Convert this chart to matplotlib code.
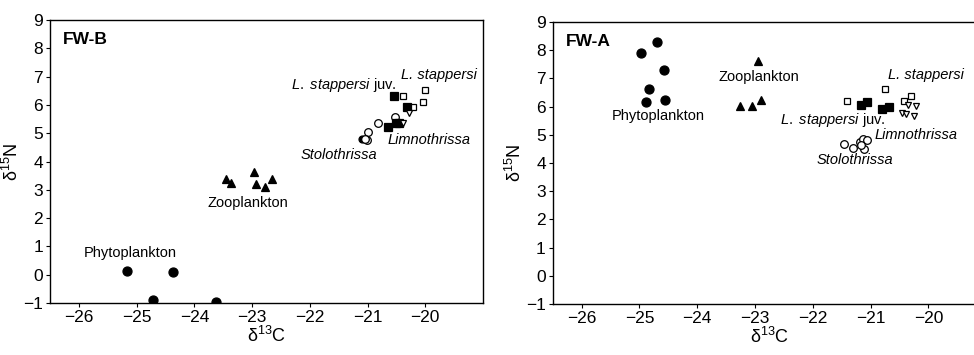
import numpy as np
import matplotlib.pyplot as plt

plt.rcParams['font.family'] = ['Liberation Sans', 'DejaVu Sans']
plt.rcParams['mathtext.fontset'] = 'custom'
plt.rcParams['mathtext.rm'] = 'Liberation Sans'
plt.rcParams['mathtext.it'] = 'Liberation Sans:italic'

# ---- FW-B data ----
b_phyto_x = [-25.17, -24.37, -24.72, -23.63]
b_phyto_y = [0.14, 0.08, -0.89, -0.95]
b_zoo_x = [-23.45, -23.36, -22.96, -22.93, -22.77, -22.65]
b_zoo_y = [3.37, 3.25, 3.64, 3.20, 3.10, 3.39]
b_juv_x = [-20.54, -20.32, -20.65, -20.46, -20.50]
b_juv_y = [6.33, 5.94, 5.23, 5.35, 5.37]
b_stap_x = [-20.38, -20.00, -20.04, -20.21]
b_stap_y = [6.33, 6.53, 6.09, 5.92]
b_limno_x = [-20.29, -20.39]
b_limno_y = [5.70, 5.37]
b_stolo_x = [-20.52, -20.81, -21.00, -21.01, -21.05]
b_stolo_y = [5.58, 5.35, 5.03, 4.76, 4.80]
b_stolo_f_x = [-21.10]
b_stolo_f_y = [4.79]

# ---- FW-A data ----
a_phyto_x = [-24.69, -24.97, -24.57, -24.83, -24.88, -24.56]
a_phyto_y = [8.30, 7.89, 7.30, 6.62, 6.17, 6.23]
a_zoo_x = [-22.94, -23.26, -23.06, -22.90]
a_zoo_y = [7.63, 6.02, 6.02, 6.23]
a_juv_x = [-21.17, -21.07, -20.81, -20.68]
a_juv_y = [6.06, 6.15, 5.91, 6.00]
a_stap_x = [-21.40, -20.75, -20.30, -20.42]
a_stap_y = [6.21, 6.61, 6.39, 6.20]
a_limno_x = [-20.35, -20.22, -20.45, -20.39, -20.25]
a_limno_y = [6.06, 6.02, 5.76, 5.73, 5.68]
a_stolo_x = [-21.46, -21.31, -21.18, -21.13, -21.07, -21.11, -21.16]
a_stolo_y = [4.66, 4.54, 4.73, 4.84, 4.82, 4.49, 4.64]

xticks = [-26, -25, -24, -23, -22, -21, -20]
yticks = list(range(-1, 10))

fig = plt.figure(figsize=(9.74, 3.55), dpi=100)
ax1 = fig.add_axes([0.0513, 0.1465, 0.4446, 0.797])
ax2 = fig.add_axes([0.5675, 0.1437, 0.445, 0.7943])


def style(ax, tag):
    ax.set_xlim(-26.5, -19)
    ax.set_ylim(-1, 9)
    ax.set_xticks(xticks)
    ax.set_yticks(yticks)
    ax.set_xticklabels(['\u2212%d' % abs(t) for t in xticks])
    ax.set_yticklabels([('\u2212%d' % abs(t)) if t < 0 else str(t) for t in yticks])
    ax.tick_params(direction='out', length=3, width=0.8, labelsize=12.5, pad=2)
    for s in ax.spines.values():
        s.set_linewidth(1.0)
    ax.set_xlabel(r'$\mathrm{\delta}^{13}$C', fontsize=13, labelpad=1)
    ax.set_ylabel(r'$\mathrm{\delta}^{15}$N', fontsize=13, labelpad=1)
    ax.text(0.03, 0.93, tag, transform=ax.transAxes, fontsize=12.5,
            fontweight='bold', va='center', ha='left')


def points(ax, x, y, marker, filled, ms):
    ax.plot(x, y, linestyle='none', marker=marker, ms=ms,
            mfc='black' if filled else 'white', mec='black', mew=0.9)


style(ax1, 'FW-B')
points(ax1, b_phyto_x, b_phyto_y, 'o', True, 6.5)
points(ax1, b_zoo_x, b_zoo_y, '^', True, 6)
points(ax1, b_stolo_f_x, b_stolo_f_y, 'o', True, 5)
points(ax1, b_stolo_x, b_stolo_y, 'o', False, 5.5)
points(ax1, b_stap_x, b_stap_y, 's', False, 5)
points(ax1, b_juv_x, b_juv_y, 's', True, 5.2)
points(ax1, b_limno_x, b_limno_y, 'v', False, 5)

ax1.text(-25.11, 0.76, 'Phytoplankton', fontsize=10.5, ha='center', va='center')
ax1.text(-23.08, 2.53, 'Zooplankton', fontsize=10.5, ha='center', va='center')
ax1.text(-20.5, 6.7, r'$\it{L.\ stappersi}$ juv.', fontsize=10.5, ha='right', va='center')
ax1.text(-20.42, 7.06, 'L. stappersi', fontsize=10.5, style='italic', ha='left', va='center')
ax1.text(-20.66, 4.76, 'Limnothrissa', fontsize=10.5, style='italic', ha='left', va='center')
ax1.text(-22.16, 4.23, 'Stolothrissa', fontsize=10.5, style='italic', ha='left', va='center')

style(ax2, 'FW-A')
points(ax2, a_phyto_x, a_phyto_y, 'o', True, 6.5)
points(ax2, a_zoo_x, a_zoo_y, '^', True, 6)
points(ax2, a_stolo_x, a_stolo_y, 'o', False, 5.5)
points(ax2, a_stap_x, a_stap_y, 's', False, 5)
points(ax2, a_juv_x, a_juv_y, 's', True, 5.2)
points(ax2, a_limno_x, a_limno_y, 'v', False, 5)

ax2.text(-24.67, 5.68, 'Phytoplankton', fontsize=10.5, ha='center', va='center')
ax2.text(-22.94, 7.05, 'Zooplankton', fontsize=10.5, ha='center', va='center')
ax2.text(-20.7, 7.12, 'L. stappersi', fontsize=10.5, style='italic', ha='left', va='center')
ax2.text(-22.57, 5.52, r'$\it{L.\ stappersi}$ juv.', fontsize=10.5, ha='left', va='center')
ax2.text(-20.94, 4.99, 'Limnothrissa', fontsize=10.5, style='italic', ha='left', va='center')
ax2.text(-21.93, 4.1, 'Stolothrissa', fontsize=10.5, style='italic', ha='left', va='center')

fig.savefig('out.png', dpi=100)
